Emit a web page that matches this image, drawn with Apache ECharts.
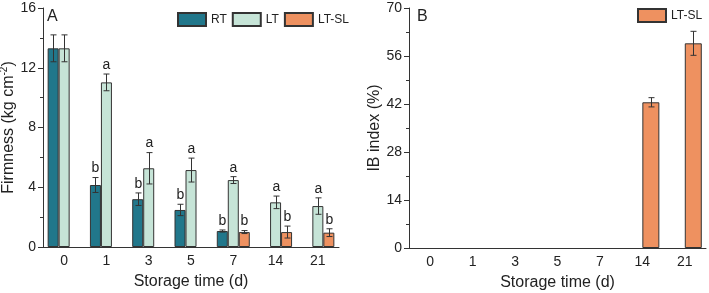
<!DOCTYPE html>
<html style="height: 100%">
<head>
    <meta charset="utf-8">
</head>
<body style="height: 100%; margin: 0; background: #fff">
<div id="container" style="width: 709px; height: 293px"></div>
<script type="text/javascript" src="https://cdn.jsdelivr.net/npm/echarts@6/dist/echarts.min.js"></script>
<script type="text/javascript">
    var days = ['0', '1', '3', '5', '7', '14', '21'];

    // A: firmness (kg cm-2)
    var rtMean = [13.3, 4.15, 3.2, 2.48, 1.07, null, null];
    var rtErr = [0.9, 0.5, 0.42, 0.38, 0.07, null, null];
    var rtLetter = ['', 'b', 'b', 'b', 'b', '', ''];
    var ltMean = [13.3, 11.02, 5.27, 5.15, 4.48, 2.99, 2.74];
    var ltErr = [0.9, 0.56, 1.05, 0.8, 0.23, 0.42, 0.55];
    var ltLetter = ['', 'a', 'a', 'a', 'a', 'a', 'a'];
    var slMean = [null, null, null, null, 1.0, 1.0, 0.96];
    var slErr = [null, null, null, null, 0.1, 0.4, 0.26];
    var slLetter = ['', '', '', '', 'b', 'b', 'b'];

    // B: IB index (%)
    var ibMean = [null, null, null, null, null, 42.5, 59.7];
    var ibErr = [null, null, null, null, null, 1.35, 3.5];

    var cRT = '#21778b', cLT = '#c6e4d7', cSL = '#ee9160';
    var ink = '#333';
    var font = 'Liberation Sans, Arial, sans-serif';

    var dom = document.getElementById("container");
    var myChart = echarts.init(dom);

    function toBar(arr) {
        return arr.map(function (v) { return v == null ? '-' : v; });
    }
    function errData(mean, err) {
        var out = [];
        for (var i = 0; i < mean.length; i++) {
            if (mean[i] != null) out.push([i, mean[i], err[i]]);
        }
        return out;
    }
    function errSeries(mean, err, letters, offset, xi, yi) {
        return {
            type: 'custom',
            xAxisIndex: xi,
            yAxisIndex: yi,
            z: 10,
            silent: true,
            encode: {x: 0, y: 1},
            data: errData(mean, err),
            renderItem: function (params, api) {
                var i = api.value(0), m = api.value(1), e = api.value(2);
                var top = api.coord([i, m + e]);
                var bot = api.coord([i, m - e]);
                var x = Math.round(top[0] + offset) + 0.5;
                var cap = 3;
                var st = {stroke: ink, lineWidth: 1};
                var kids = [
                    {type: 'line', shape: {x1: x, y1: top[1], x2: x, y2: bot[1]}, style: st},
                    {type: 'line', shape: {x1: x - cap, y1: top[1], x2: x + cap, y2: top[1]}, style: st},
                    {type: 'line', shape: {x1: x - cap, y1: bot[1], x2: x + cap, y2: bot[1]}, style: st}
                ];
                var t = letters ? letters[i] : '';
                if (t) {
                    kids.push({
                        type: 'text',
                        style: {
                            text: t, x: x, y: top[1] - 2,
                            align: 'center', verticalAlign: 'bottom',
                            fontSize: 14, fontFamily: font, fill: '#222'
                        }
                    });
                }
                return {type: 'group', children: kids};
            }
        };
    }

    var axisLine = {lineStyle: {color: ink, width: 1}};
    var labelStyle = {color: '#222', fontSize: 14, fontFamily: font};
    var nameStyle = {color: '#222', fontSize: 16, fontFamily: font};

    function catAxis(gi) {
        return {
            type: 'category', gridIndex: gi, data: days,
            axisLine: axisLine,
            axisTick: {inside: true, alignWithLabel: true, length: 5, lineStyle: {color: ink}},
            axisLabel: Object.assign({margin: 7}, labelStyle),
            name: 'Storage time (d)', nameLocation: 'middle', nameGap: 27,
            nameTextStyle: nameStyle
        };
    }
    function tickAxis(gi) {
        return {
            type: 'category', gridIndex: gi, data: days, position: 'bottom',
            axisLine: {show: false},
            axisTick: {inside: true, length: 3, lineStyle: {color: ink}},
            axisLabel: {show: false}
        };
    }
    function valAxis(gi, max, interval, name, gap) {
        return {
            type: 'value', gridIndex: gi, min: 0, max: max, interval: interval,
            axisLine: {show: true, lineStyle: {color: ink, width: 1}},
            axisTick: {show: true, length: 5, lineStyle: {color: ink}},
            minorTick: {show: true, splitNumber: 2, length: 3, lineStyle: {color: ink}},
            splitLine: {show: false},
            axisLabel: Object.assign({margin: 7}, labelStyle),
            name: name, nameLocation: 'middle', nameGap: gap,
            nameTextStyle: Object.assign({
                rich: {
                    n: {fontSize: 16, fontFamily: font, color: '#222'},
                    sup: {fontSize: 10, fontFamily: font, color: '#222', padding: [0, 0, 8, 0]}
                }
            }, nameStyle)
        };
    }

    var barStyle = function (c) {
        return {color: c, borderColor: ink, borderWidth: 1};
    };
    var legendText = {fontSize: 12, fontFamily: font, color: '#222'};

    var option = {
        animation: false,
        backgroundColor: '#fff',
        title: [
            {text: 'A', left: 47, top: 9, padding: 0,
                textStyle: {fontSize: 16, fontWeight: 'normal', color: '#222', fontFamily: font}},
            {text: 'B', left: 417, top: 9, padding: 0,
                textStyle: {fontSize: 16, fontWeight: 'normal', color: '#222', fontFamily: font}}
        ],
        legend: [
            {
                data: ['RT', 'LT', 'LT-SL'], left: 177, top: 12, padding: 0,
                icon: 'rect', itemWidth: 28, itemHeight: 13, itemGap: 5,
                textStyle: legendText
            },
            {
                data: ['LT-SL'], left: 637, top: 8, padding: 0,
                icon: 'rect', itemWidth: 28, itemHeight: 13,
                textStyle: legendText
            }
        ],
        grid: [
            {left: 43, top: 8, width: 296, height: 239, outerBoundsMode: 'none'},
            {left: 409, top: 8, width: 297, height: 240, outerBoundsMode: 'none'}
        ],
        xAxis: [catAxis(0), tickAxis(0), catAxis(1), tickAxis(1)],
        yAxis: [
            valAxis(0, 16, 4, '{n|Firmness (kg cm}{sup|-2}{n|)}', 21),
            valAxis(1, 70, 14, 'IB index (%)', 22)
        ],
        series: [
            {name: 'RT', type: 'bar', xAxisIndex: 0, yAxisIndex: 0, barWidth: 11, barGap: '0%',
                itemStyle: barStyle(cRT), data: toBar(rtMean)},
            {name: 'LT', type: 'bar', xAxisIndex: 0, yAxisIndex: 0, barWidth: 11, barGap: '0%',
                itemStyle: barStyle(cLT), data: toBar(ltMean)},
            {name: 'LT-SL', type: 'bar', xAxisIndex: 0, yAxisIndex: 0, barWidth: 11, barGap: '0%',
                itemStyle: barStyle(cSL), data: toBar(slMean)},
            errSeries(rtMean, rtErr, rtLetter, -11, 0, 0),
            errSeries(ltMean, ltErr, ltLetter, 0, 0, 0),
            errSeries(slMean, slErr, slLetter, 11, 0, 0),

            {name: 'blank', type: 'bar', xAxisIndex: 2, yAxisIndex: 1, barWidth: 17, barGap: '0%',
                data: toBar([null, null, null, null, null, null, null])},
            {name: 'LT-SL', type: 'bar', xAxisIndex: 2, yAxisIndex: 1, barWidth: 17, barGap: '0%',
                itemStyle: barStyle(cSL), data: toBar(ibMean)},
            errSeries(ibMean, ibErr, null, 8.5, 2, 1)
        ]
    };

    myChart.setOption(option);
</script>
</body>
</html>
